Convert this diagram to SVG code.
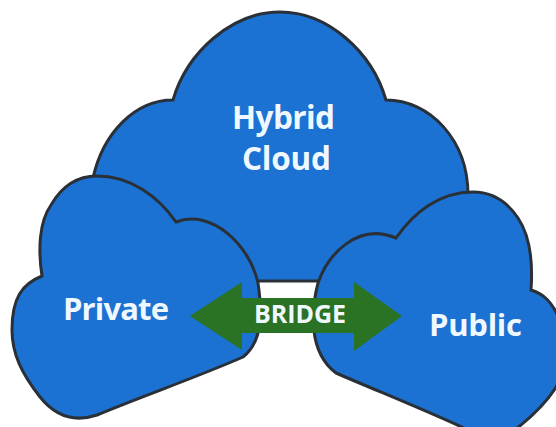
<svg xmlns="http://www.w3.org/2000/svg" width="556" height="427" viewBox="0 0 556 427">
<style>
.cloud{fill:#1b72d2;stroke:#2a3038;stroke-width:3;stroke-linejoin:miter}
.t{font-family:"Open Sans","Liberation Sans",sans-serif;font-weight:700;fill:#f0f8ff}
</style>
<rect width="556" height="427" fill="#fff"/>
<g id="hybrid-cloud">
<path class="cloud" d="M93 178C103 133 135 100 173 100C187 52 232 12 280 12C328 12 372 52 386 100C430 100 468 140 468 195L468 281L93 281Z"/>
<text class="t" x="232" y="129" font-size="31.5" textLength="103">Hybrid</text>
<text class="t" x="242" y="170" font-size="31.5" textLength="89">Cloud</text>
</g>
<g id="private-cloud">
<path class="cloud" d="M42 276C38 250 39 222 51 205C62 186 78 176 97 176C130 176 158 196 176 222C212 208 250 246 258 283C262 310 264 340 243 357C200 376 140 397 97 415C70 424 52 412 40 397C22 374 12 354 12 330C12 298 22 284 42 276Z"/>
<text class="t" x="63" y="320" font-size="31" textLength="106">Private</text>
</g>
<g id="public-cloud">
<path class="cloud" d="M531 290C533 262 530 236 518 218C506 200 490 192 473 192C440 192 414 212 396 238C358 222 328 254 318 283C311 310 308 352 336 373C380 392 425 410 466 429L516 429C535 414 552 396 560 380L560 320C552 302 544 294 531 290Z"/>
<text class="t" x="429" y="336" font-size="31" textLength="93">Public</text>
</g>
<g id="connectors">
<path d="M190 316L242 282L242 298L354 298L354 282L402 316L354 351L354 333L242 333L242 350Z" fill="#2a7224"/>
<text class="t" x="254" y="323" font-size="25" textLength="92">BRIDGE</text>
</g>
</svg>
